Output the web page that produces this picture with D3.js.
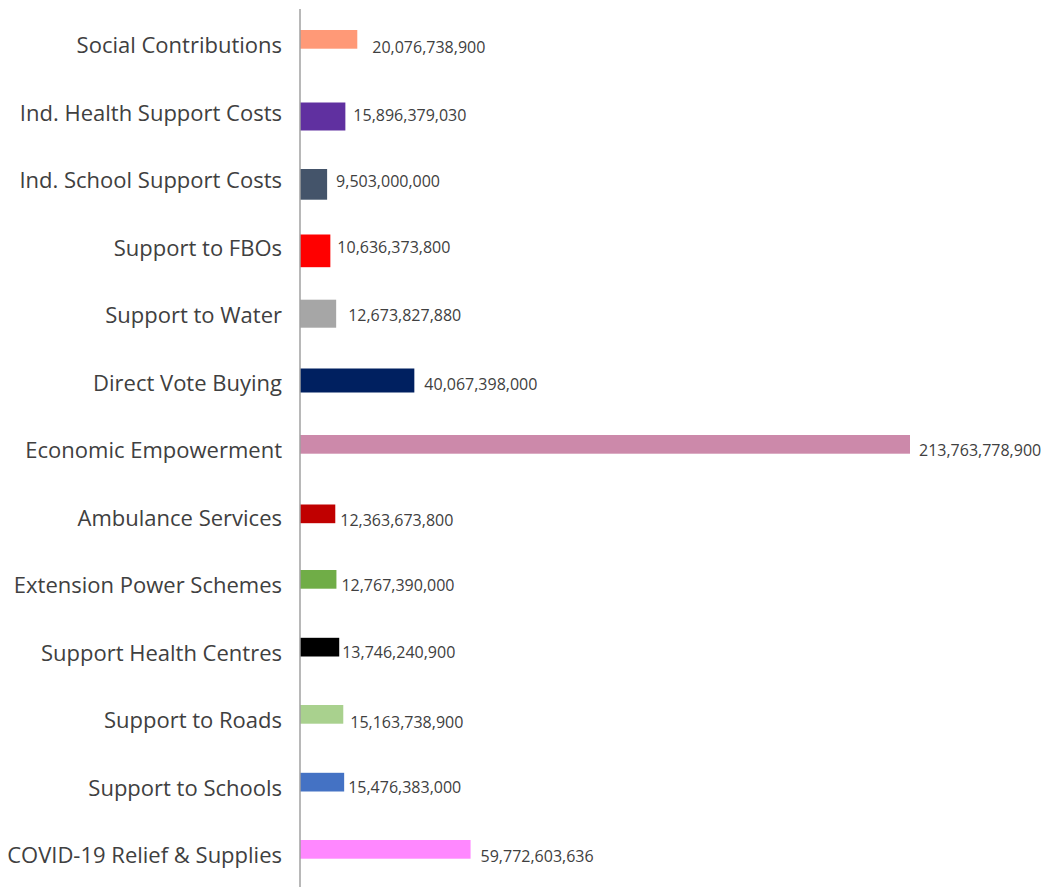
<!DOCTYPE html>
<html>
<head>
<meta charset="utf-8">
<script src="https://cdn.jsdelivr.net/npm/d3@7"></script>
<style>
  html, body { margin: 0; padding: 0; background: #fff; }
  svg { display: block; }
  text { font-family: "Open Sans", "Noto Sans", sans-serif; }
</style>
</head>
<body>
<svg id="chart" width="1044" height="887"></svg>
<script>
// ---- data ----
const categories = [
  "Social Contributions",
  "Ind. Health Support Costs",
  "Ind. School Support Costs",
  "Support to FBOs",
  "Support to Water",
  "Direct Vote Buying",
  "Economic Empowerment",
  "Ambulance Services",
  "Extension Power Schemes",
  "Support Health Centres",
  "Support to Roads",
  "Support to Schools",
  "COVID-19 Relief & Supplies"
];
const values = [
  20076738900,
  15896379030,
  9503000000,
  10636373800,
  12673827880,
  40067398000,
  213763778900,
  12363673800,
  12767390000,
  13746240900,
  15163738900,
  15476383000,
  59772603636
];
const colors = [
  "#FF9977", "#6030A0", "#44546A", "#FF0000", "#A6A6A6", "#002060",
  "#CC89AA", "#C00000", "#70AD47", "#000000", "#A9D18E", "#4472C4", "#FF88FF"
];
// per-bar styling (thickness, vertical shift of bar top from row centre, label gap)
const barThickness = [18.7, 28, 30.7, 32.7, 28, 24, 18.7, 18.7, 18.7, 18.7, 18.7, 18.7, 18.7];
const barTopShift  = [-15, -10, -11, -13, -15.3, -14, -15, -13, -15, -14.7, -15, -14.7, -15];
const labelGap     = [15, 8, 9, 7, 12, 10, 9, 5, 5, 3, 7, 4, 10];
const labelShift   = [2.7, 3, 1.7, 0, 0, 2, 0.7, 3, 0.7, 0, 2.7, 0, 1];

// ---- layout ----
const svg = d3.select("#chart");
const axisX = 300;

const y = d3.scaleBand()
  .domain(categories)
  .range([11.25, 888.75])
  .padding(0);

const x = d3.scaleLinear()
  .domain([0, 213763778900])
  .range([axisX, 910]);

const fmt = d3.format(",");

const rows = categories.map((c, i) => ({c, v: values[i], i}));

// bars
svg.append("g").selectAll("rect")
  .data(rows)
  .join("rect")
  .attr("x", x(0))
  .attr("y", d => y(d.c) + y.bandwidth() / 2 + barTopShift[d.i])
  .attr("width", d => x(d.v) - x(0))
  .attr("height", d => barThickness[d.i])
  .attr("fill", d => colors[d.i]);

// value labels
svg.append("g").selectAll("text")
  .data(rows)
  .join("text")
  .attr("x", d => x(d.v) + labelGap[d.i])
  .attr("y", d => y(d.c) + y.bandwidth() / 2 + labelShift[d.i])
  .attr("dy", "0.35em")
  .attr("font-size", 16)
  .attr("fill", "#404040")
  .text(d => fmt(d.v));

// category axis
const axis = d3.axisLeft(y).tickSize(0).tickPadding(18);
const gAxis = svg.append("g")
  .attr("transform", `translate(${axisX},0)`)
  .call(axis);
gAxis.select(".domain").remove();
gAxis.selectAll("text")
  .attr("font-family", "\"Open Sans\", \"Noto Sans\", sans-serif")
  .attr("font-size", 22)
  .attr("dy", "0.38em")
  .attr("fill", "#404040");

svg.append("line")
  .attr("x1", axisX).attr("x2", axisX)
  .attr("y1", 9).attr("y2", 887)
  .attr("stroke", "#A0A0A0")
  .attr("stroke-width", 1.5);
</script>
</body>
</html>
